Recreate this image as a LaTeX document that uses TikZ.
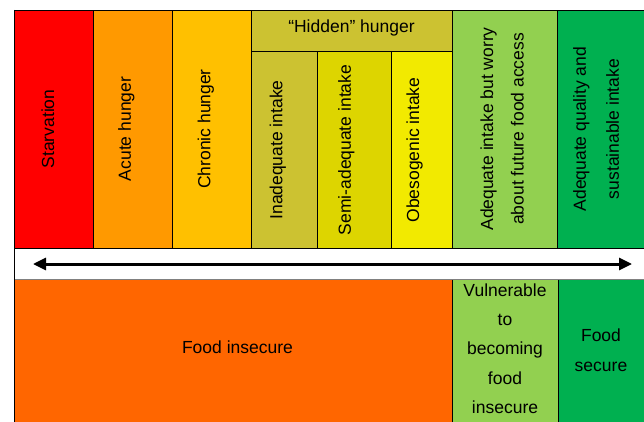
\documentclass[tikz,border=0pt]{standalone}
\usepackage{fontspec}
\setmainfont{Liberation Sans}
\usetikzlibrary{arrows.meta}

% band colours, from most to least severe
\definecolor{cStarv}{HTML}{FF0000}
\definecolor{cAcute}{HTML}{FF9900}
\definecolor{cChronic}{HTML}{FFC000}
\definecolor{cHidden}{HTML}{CCC231}
\definecolor{cSemi}{HTML}{DDD500}
\definecolor{cObeso}{HTML}{F2EA00}
\definecolor{cWorry}{HTML}{92D050}
\definecolor{cSecure}{HTML}{00B050}
\definecolor{cInsecure}{HTML}{FF6600}

\begin{document}
\begin{tikzpicture}[x=1pt,y=-1pt,
  cell/.style={draw=black,line width=0.9pt},
  lbl/.style={font=\fontsize{17.5}{30.5}\selectfont,align=center,inner sep=0pt},
  vlbl/.style={lbl,rotate=90,text height=0.72em,text depth=0.21em},
  vlbltwo/.style={lbl,rotate=90},
  hlbl/.style={lbl,text height=0.72em,text depth=0.21em},
  spectrum/.style={line width=3pt,{Triangle[length=13pt,width=12pt]}-{Triangle[length=13pt,width=12pt]}}]

\useasboundingbox[fill=white] (0,0) rectangle (644,422);

% upper row: intake categories
\path[cell,fill=cStarv]   (14,10)  rectangle (93,248);
\path[cell,fill=cAcute]   (93,10)  rectangle (172,248);
\path[cell,fill=cChronic] (172,10) rectangle (251,248);
\path[cell,fill=cHidden]  (251,10) rectangle (452,51);
\path[cell,fill=cHidden]  (251,51) rectangle (317,248);
\path[cell,fill=cSemi]    (317,51) rectangle (391,248);
\path[cell,fill=cObeso]   (391,51) rectangle (452,248);
\path[cell,fill=cWorry]   (452,10) rectangle (557,248);
\path[cell,fill=cSecure]  (557,10) rectangle (652,248);

% lower row: security status
\path[fill=cInsecure]     (14,279)  rectangle (452,430);
\path[cell,fill=cWorry]   (452,279) rectangle (558,430);
\path[cell,fill=cSecure]  (558,279) rectangle (652,430);
\draw[line width=1pt,gray] (14,279) -- (652,279);
\draw[line width=0.9pt] (14,10) -- (14,430);

% upper labels
\node[vlbl] (starv)   at (51.5,129)  {Starvation};
\node[vlbl] (acute)   at (128.3,129) {Acute hunger};
\node[vlbl] (chronic) at (207.7,129) {Chronic hunger};
\node[hlbl] (hidden)  at (351.5,29.5) {“Hidden” hunger};
\node[vlbl] (inadeq)  at (279.8,150) {Inadequate intake};
\node[vlbl] (semi)    at (348.2,150) {Semi-adequate intake};
\node[vlbl] (obeso)   at (416.5,150) {Obesogenic intake};
\node[vlbltwo] (worry) at (502,129) {Adequate intake but worry\\about future food access};
\node[vlbltwo,font=\fontsize{17.5}{33}\selectfont] (quality) at (596,129) {Adequate quality and\\sustainable intake};

% lower labels
\node[hlbl] (insecure) at (237.5,350.5) {Food insecure};
\node[lbl,font=\fontsize{17.5}{29.3}\selectfont] (vulner) at (505,348.5) {Vulnerable\\to\\becoming\\food\\insecure};
\node[lbl] (secure) at (601,350) {Food\\secure};

% double-headed spectrum arrow
\coordinate (arrL) at (33,264);
\coordinate (arrR) at (632,264);
\draw[spectrum] (arrL) -- (arrR);
\end{tikzpicture}
\end{document}
